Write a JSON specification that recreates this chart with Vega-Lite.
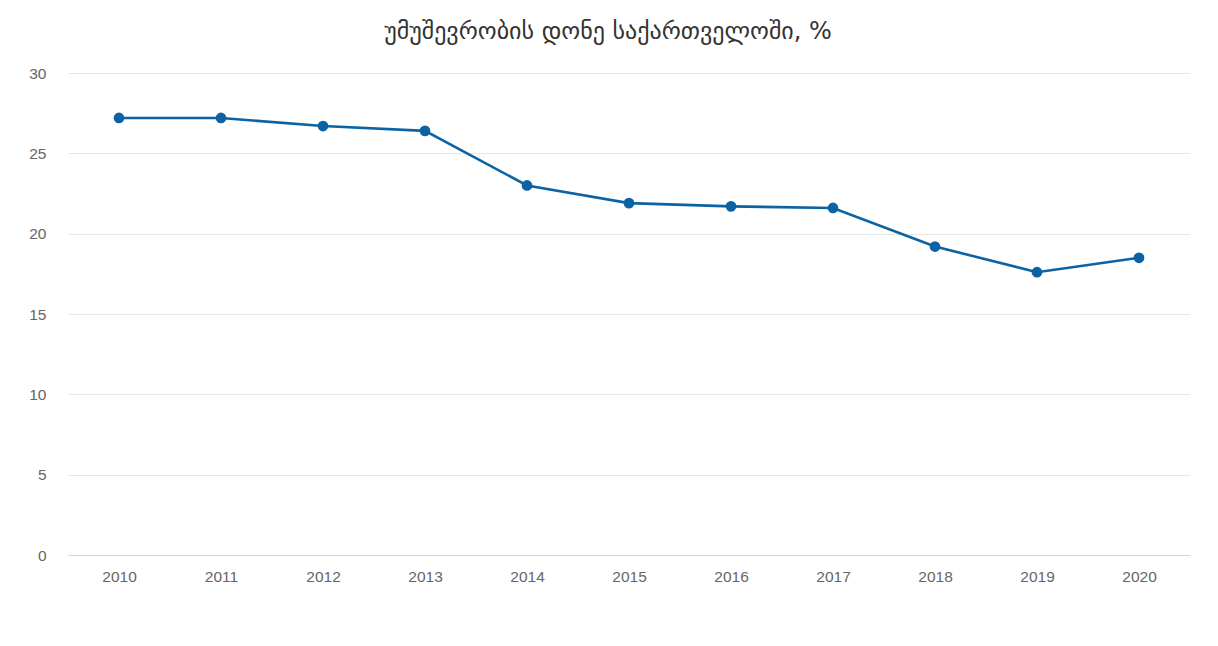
{
  "$schema": "https://vega.github.io/schema/vega-lite/v6.json",
  "autosize": {"type": "none"},
  "width": 1122,
  "height": 482,
  "padding": {"left": 68, "top": 73, "right": 28, "bottom": 91},
  "background": "#ffffff",
  "title": {
    "text": "უმუშევრობის დონე საქართველოში, %",
    "font": "DejaVu Sans",
    "fontSize": 24,
    "fontWeight": "normal",
    "color": "#333333",
    "anchor": "middle",
    "dx": -21,
    "offset": 22
  },
  "data": {
    "values": [
      {"year": "2010", "rate": 27.2},
      {"year": "2011", "rate": 27.2},
      {"year": "2012", "rate": 26.7},
      {"year": "2013", "rate": 26.4},
      {"year": "2014", "rate": 23.0},
      {"year": "2015", "rate": 21.9},
      {"year": "2016", "rate": 21.7},
      {"year": "2017", "rate": 21.6},
      {"year": "2018", "rate": 19.2},
      {"year": "2019", "rate": 17.6},
      {"year": "2020", "rate": 18.5}
    ]
  },
  "encoding": {
    "x": {
      "field": "year",
      "type": "ordinal",
      "title": null,
      "scale": {"type": "point", "padding": 0.5},
      "axis": {
        "labelAngle": 0,
        "ticks": false,
        "grid": false,
        "domain": true,
        "domainColor": "#ccd6eb",
        "domainWidth": 1,
        "labelFont": "Liberation Sans",
        "labelFontSize": 15.5,
        "labelColor": "#666666",
        "labelPadding": 14
      }
    },
    "y": {
      "field": "rate",
      "type": "quantitative",
      "title": null,
      "scale": {"domain": [0, 30], "nice": false},
      "axis": {
        "values": [0, 5, 10, 15, 20, 25, 30],
        "ticks": false,
        "domain": false,
        "grid": true,
        "gridColor": "#e6e6e6",
        "gridWidth": 1,
        "labelFont": "Liberation Sans",
        "labelFontSize": 15.5,
        "labelColor": "#666666",
        "labelPadding": 22
      }
    }
  },
  "layer": [
    {"mark": {"type": "line", "color": "#0b62a4", "strokeWidth": 2.6}},
    {"mark": {"type": "point", "filled": true, "opacity": 1, "color": "#0b62a4", "size": 115}}
  ],
  "config": {"view": {"stroke": null}}
}
